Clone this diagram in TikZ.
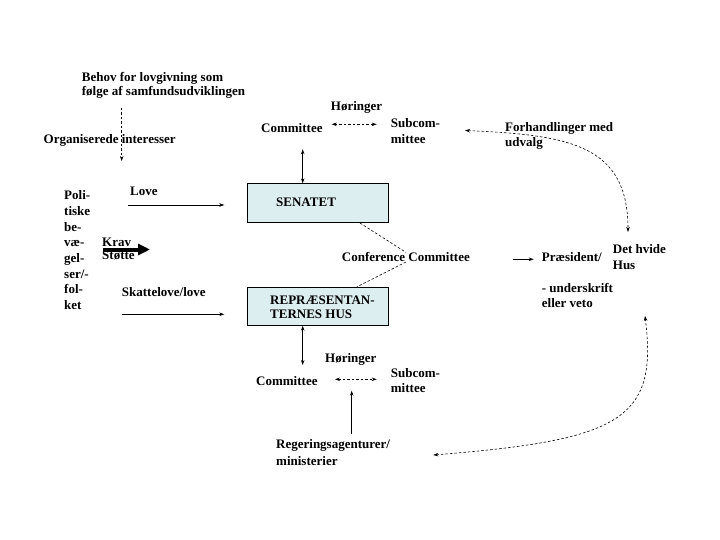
\documentclass[tikz,border=0pt]{standalone}
\usepackage{fontspec}
\setmainfont{Liberation Serif}
\usetikzlibrary{arrows.meta}
\definecolor{boxfill}{RGB}{221,238,240}
\begin{document}
\begin{tikzpicture}[x=1pt,y=-1pt,
  txt/.style={anchor=base west,inner sep=0pt,font=\fontsize{13}{15}\selectfont\bfseries},
  mtxt/.style={anchor=north west,inner sep=0pt,align=left,font=\fontsize{13}{#1}\selectfont\bfseries},
  mtxt/.default=15.5,
  house/.style={draw=black,line width=0.7pt,fill=boxfill,inner sep=0pt},
  tip/.style={-{Stealth[length=5pt,width=3.5pt]}},
  ttip/.style={{Stealth[length=5pt,width=3.5pt]}-{Stealth[length=5pt,width=3.5pt]}},
  solid line/.style={line width=0.7pt},
  dsh/.style={line width=0.6pt,dash pattern=on 2.5pt off 2pt}]
\useasboundingbox (0,0) rectangle (720,540);

% boxes
\node[house,minimum width=141pt,minimum height=39pt,anchor=north west] (sen) at (247.3,183.3) {};
\node[house,minimum width=141pt,minimum height=38pt,anchor=north west] (rep) at (247.3,287) {};
\node[txt] (sentxt) at (276,206.7) {SENATET};
\node[mtxt=14] (reptxt) at (270,296) {REPRÆSENTAN-\\TERNES HUS};

% top left
\node[mtxt=14] (behov) at (81.7,72) {Behov for lovgivning som\\følge af samfundsudviklingen};
\coordinate (orgtop) at (121.7,108);
\coordinate (orgtip) at (121.7,161);
\draw[dsh,tip] (orgtop) -- (orgtip);
\node[txt] (org) at (43.5,143.3) {Organiserede interesser};

% upper committee
\node[txt] (com1) at (261,132.7) {Committee};
\node[txt] (hor1) at (330.7,110.7) {Høringer};
\node[mtxt=15.5] (sub1) at (390.7,118.5) {Subcom-\\mittee};
\coordinate (h1a) at (331.7,124.3);
\coordinate (h1b) at (376.7,124.3);
\draw[dsh,ttip] (h1a) -- (h1b);
\coordinate (c1s) at (302.7,149.3);
\draw[solid line,ttip] (c1s) -- (sen.north -| c1s);

% Forhandlinger
\coordinate (ftip) at (465,130.5);
\coordinate (wtip) at (628,232);
\draw[dsh,ttip] (ftip) .. controls (570,135) and (628,145) .. (wtip);
\node[mtxt=15] (forh) at (505,122) {Forhandlinger med\\udvalg};

% left column
\node[mtxt=15.7] (poli) at (64,190.5) {Poli-\\tiske\\be-\\væ-\\gel-\\ser/-\\fol-\\ket};
\node[txt] (love) at (130,196) {Love};
\coordinate (la) at (128.3,205);
\coordinate (lb) at (224.3,205);
\draw[solid line,tip] (la) -- (lb);
\coordinate (ka) at (103,249.5);
\coordinate (kb) at (150,249.5);
\draw[line width=4pt,-{Triangle[length=12pt,width=11pt]}] (ka) -- (kb);
\node[mtxt=13.3] (krav) at (102,237.7) {Krav\\Støtte};
\node[txt] (skat) at (121.7,296.7) {Skattelove/love};
\coordinate (sa) at (121.7,314.3);
\coordinate (sb) at (224.3,314.3);
\draw[solid line,tip] (sa) -- (sb);

% conference committee
\node[txt] (conf) at (341.7,261.7) {Conference Committee};
\draw[dsh] (sen.south -| 360,0) -- (conf.north);
\draw[dsh] (conf.south) -- (rep.north -| 356.7,0);

% president
\coordinate (pa) at (513.3,259.3);
\node[txt] (pres) at (541.7,261.7) {Præsident/};
\draw[solid line,tip] (pa) -- ([xshift=-8pt]pres.west |- pa);
\node[mtxt=16] (hvide) at (612.7,244.2) {Det hvide\\Hus};
\node[mtxt=15] (under) at (541.7,283.5) {- underskrift\\eller veto};

% lower committee
\coordinate (c2n) at (302.7,365);
\draw[solid line,ttip] (rep.south -| c2n) -- (c2n);
\node[txt] (com2) at (256,385) {Committee};
\node[txt] (hor2) at (325,362.3) {Høringer};
\node[mtxt=15.5] (sub2) at (390.7,367.9) {Subcom-\\mittee};
\coordinate (h2a) at (335,379.3);
\coordinate (h2b) at (376.7,379.3);
\draw[dsh,ttip] (h2a) -- (h2b);
\node[mtxt=16.7] (reg) at (276,439.5) {Regeringsagenturer/\\ministerier};
\coordinate (ru) at (351.7,390.7);
\draw[solid line,tip] (reg.north -| ru) ++(0,-6) -- (ru);

% lower dashed curve
\coordinate (rtip) at (433.3,455);
\coordinate (vtip) at (645,316);
\draw[dsh,ttip] (rtip) .. controls (620,440) and (658,420) .. (vtip);
\end{tikzpicture}
\end{document}
